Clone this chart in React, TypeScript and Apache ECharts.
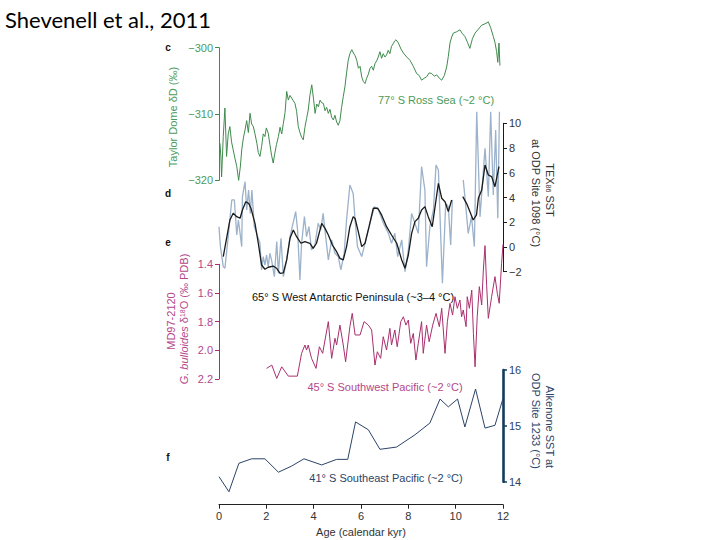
import React, { useEffect, useRef } from "react";
import * as echarts from "echarts";

// Panel c: Taylor Dome dD (per mil)
const ageC = [0.04, 0.08, 0.11, 0.18, 0.25, 0.32, 0.39, 0.46, 0.53, 0.6, 0.68, 0.75, 0.83, 0.9, 0.96, 1.03, 1.1, 1.17, 1.24, 1.31, 1.38, 1.45, 1.52, 1.6, 1.66, 1.73, 1.8, 1.87, 1.94, 2.0, 2.08, 2.15, 2.22, 2.29, 2.36, 2.43, 2.51, 2.58, 2.65, 2.72, 2.79, 2.86, 2.93, 3.0, 3.07, 3.14, 3.21, 3.28, 3.35, 3.42, 3.49, 3.56, 3.63, 3.7, 3.77, 3.84, 3.92, 3.99, 4.06, 4.13, 4.2, 4.27, 4.34, 4.41, 4.48, 4.55, 4.62, 4.69, 4.76, 4.83, 4.9, 4.97, 5.04, 5.11, 5.18, 5.25, 5.32, 5.39, 5.46, 5.53, 5.61, 5.68, 5.75, 5.82, 5.89, 5.96, 6.03, 6.1, 6.17, 6.24, 6.31, 6.38, 6.45, 6.52, 6.59, 6.66, 6.73, 6.8, 6.87, 6.94, 7.01, 7.08, 7.15, 7.22, 7.29, 7.36, 7.42, 7.48, 7.58, 7.69, 7.79, 7.93, 8.07, 8.21, 8.35, 8.46, 8.56, 8.67, 8.77, 8.88, 8.99, 9.1, 9.2, 9.31, 9.41, 9.52, 9.62, 9.69, 9.76, 9.83, 9.9, 10.04, 10.18, 10.29, 10.39, 10.5, 10.6, 10.71, 10.82, 10.96, 11.1, 11.24, 11.38, 11.48, 11.59, 11.66, 11.73, 11.78, 11.83, 11.87];
const deltaD = [-314.4, -316.5, -319.5, -313.4, -309.1, -316.4, -313.0, -311.9, -314.2, -315.4, -316.8, -317.9, -320.0, -318.0, -315.4, -313.6, -312.4, -311.0, -312.8, -309.9, -311.5, -311.9, -313.0, -314.4, -315.8, -316.4, -314.9, -313.0, -313.4, -312.1, -312.9, -314.6, -316.2, -317.4, -315.9, -314.6, -313.4, -312.0, -313.0, -311.4, -309.8, -306.6, -307.9, -307.2, -307.6, -308.0, -308.4, -309.6, -311.9, -312.8, -313.5, -313.9, -312.0, -310.7, -309.4, -307.2, -305.6, -307.6, -309.9, -308.5, -308.9, -307.9, -308.3, -308.4, -309.5, -309.0, -309.9, -309.3, -310.5, -310.9, -310.2, -311.2, -311.7, -311.0, -309.0, -307.4, -305.9, -303.8, -301.9, -300.9, -300.3, -300.8, -301.2, -301.9, -303.1, -302.8, -304.4, -305.1, -305.4, -304.6, -304.0, -303.1, -302.8, -303.4, -302.4, -302.0, -301.4, -300.6, -301.6, -300.9, -301.4, -301.1, -300.4, -300.9, -299.8, -299.4, -299.0, -298.8, -299.3, -300.2, -300.8, -301.4, -301.9, -302.8, -303.9, -304.2, -304.9, -304.6, -304.4, -303.8, -303.9, -304.3, -304.1, -304.6, -304.9, -304.2, -302.9, -301.3, -299.3, -298.4, -297.8, -297.6, -297.3, -297.9, -298.3, -299.2, -300.1, -298.6, -297.8, -297.2, -296.6, -296.4, -296.1, -297.0, -298.3, -299.2, -300.6, -302.2, -299.3, -302.7];

// Panel d: TEX86 SST at ODP Site 1098 (degC); null = data gap
const ageDRaw = [0.0, 0.06, 0.18, 0.25, 0.39, 0.54, 0.65, 0.75, 0.82, 0.96, 0.99, 1.1, 1.17, 1.25, 1.32, 1.39, 1.49, 1.59, 1.73, 1.8, 1.87, 1.94, 2.01, 2.08, 2.15, 2.22, 2.34, 2.44, 2.51, 2.62, 2.72, 2.86, 3.0, 3.24, 3.32, 3.42, 3.49, 3.61, 3.7, 3.8, 3.91, 4.05, 4.19, 4.3, 4.4, 4.5, 4.62, 4.76, 4.9, 5.04, 5.15, 5.29, 5.39, 5.53, 5.67, 5.75, 5.85, 6.03, 6.24, 6.45, 6.57, 6.74, 6.95, 7.16, 7.29, 7.43, 7.55, 7.72, 7.86, 8.0, 8.14, 8.28, 8.42, 8.56, 8.7, 8.77, 8.91, 9.06, 9.17, 9.27, 9.44, 9.58, 9.69, 9.79, 9.86, 10.1, 10.32, 10.39, 10.53, 10.67, 10.79, 10.89, 11.03, 11.24, 11.38, 11.48, 11.59, 11.69, 11.78, 11.85];
const texRaw = [1.64, 0.03, -1.59, -1.72, 0.84, 3.8, 3.8, 0.97, 2.18, 0.03, 4.07, 5.28, 2.99, 4.6, 2.72, 4.6, 1.64, 1.1, 0.3, -1.86, -0.78, -1.46, -0.65, -1.59, -0.51, -1.05, -2.4, 0.43, -2.13, 0.7, -2.4, -1.05, 0.84, 2.86, 1.37, -2.67, 0.3, 2.45, 0.84, 1.64, -0.24, 0.16, 1.91, 1.37, 2.72, 0.97, -1.05, 0.57, -0.51, -0.78, -1.86, -0.51, 2.18, 5.01, 4.33, 2.18, 0.03, -0.78, 0.84, 2.45, 3.26, 2.99, 1.91, 1.1, 0.3, 1.1, -0.78, 0.57, -2.0, -0.24, 2.72, 1.91, 1.1, 6.49, 4.6, -1.59, 1.64, 2.99, 6.63, 6.22, -2.93, 3.53, 3.26, 0.16, 3.8, null, 5.42, 4.07, 1.1, 2.45, 0.03, 10.94, 2.45, 7.98, 4.07, 10.94, 4.2, 9.46, 2.32, 10.94];
const ageDSmooth = [0.18, 0.32, 0.46, 0.6, 0.75, 0.89, 0.99, 1.13, 1.25, 1.35, 1.52, 1.66, 1.8, 1.94, 2.08, 2.29, 2.43, 2.58, 2.72, 2.86, 3.0, 3.14, 3.28, 3.46, 3.63, 3.84, 3.98, 4.12, 4.34, 4.48, 4.62, 4.79, 4.97, 5.11, 5.25, 5.39, 5.53, 5.67, 5.75, 5.89, 6.03, 6.17, 6.34, 6.52, 6.71, 6.87, 7.08, 7.29, 7.51, 7.72, 7.86, 8.0, 8.14, 8.28, 8.42, 8.56, 8.7, 8.84, 9.01, 9.13, 9.27, 9.41, 9.55, 9.69, 9.83, 10.1, 10.3, 10.46, 10.6, 10.74, 10.88, 10.96, 11.1, 11.24, 11.38, 11.52, 11.66, 11.83];
const texSmooth = [-0.78, 0.7, 2.18, 2.72, 2.45, 2.32, 2.99, 3.66, 3.53, 3.13, 1.91, 0.3, -1.46, -1.8, -1.64, -1.54, -1.72, -2.13, -2.1, -1.05, 0.7, 1.37, 0.83, 0.3, 0.43, 0.3, -0.11, 0.3, 1.91, 1.5, 0.97, 0.16, -0.38, -0.92, -1.05, 0.03, 1.64, 2.45, 2.3, 1.2, 0.03, 0.3, 1.64, 3.13, 3.13, 2.59, 1.64, 0.97, 0.3, -1.05, -1.72, -0.65, 1.1, 2.05, 2.32, 2.99, 3.26, 2.45, 1.64, 3.26, 5.15, 3.94, 3.66, 2.86, 3.8, null, 4.07, 3.53, 2.86, 2.18, 2.59, 3.94, 4.6, 6.63, 5.82, 5.69, 4.87, 6.49];

// Panel e: MD97-2120 G. bulloides d18O (per mil PDB)
const ageE = [2.01, 2.23, 2.44, 2.65, 2.93, 3.31, 3.49, 3.63, 3.7, 3.77, 3.91, 4.1, 4.24, 4.38, 4.48, 4.62, 4.76, 4.9, 4.97, 5.11, 5.25, 5.35, 5.53, 5.63, 5.75, 5.96, 6.13, 6.31, 6.45, 6.59, 6.69, 6.83, 6.94, 7.08, 7.22, 7.29, 7.43, 7.53, 7.68, 7.79, 7.9, 8.0, 8.1, 8.21, 8.32, 8.42, 8.56, 8.63, 8.77, 8.88, 9.03, 9.17, 9.31, 9.41, 9.55, 9.65, 9.76, 9.87, 9.97, 10.07, 10.18, 10.25, 10.32, 10.44, 10.49, 10.58, 10.68, 10.75, 10.82, 10.91, 11.0, 11.1, 11.17, 11.24, 11.31, 11.38, 11.52, 11.66, 11.76, 11.84, 11.94, 12.0];
const d18O = [2.126, 2.103, 2.196, 2.115, 2.18, 2.18, 2.021, 1.963, 1.998, 1.963, 2.056, 2.126, 1.975, 2.021, 1.928, 1.8, 2.056, 1.916, 1.963, 1.824, 1.963, 2.08, 1.835, 1.742, 1.893, 1.893, 1.8, 1.824, 1.858, 2.103, 2.01, 2.056, 1.905, 1.998, 1.847, 1.963, 1.858, 1.975, 1.8, 1.766, 1.824, 1.789, 1.951, 1.882, 2.068, 1.951, 1.8, 2.021, 1.824, 1.94, 1.824, 1.742, 1.835, 1.707, 2.021, 1.8, 1.672, 1.754, 1.626, 1.707, 1.649, 1.766, 1.719, 1.835, 1.626, 1.707, 1.58, 1.882, 2.115, 1.766, 1.556, 1.684, 1.44, 1.27, 1.55, 1.777, 1.626, 1.486, 1.603, 1.672, 1.393, 1.26];

// Panel f: Alkenone SST at ODP Site 1233 (degC)
const ageF = [0.0, 0.42, 0.84, 1.38, 1.94, 2.51, 3.07, 3.59, 4.34, 4.97, 5.44, 5.77, 6.31, 6.8, 7.5, 8.28, 8.91, 9.34, 9.69, 10.08, 10.39, 10.84, 11.24, 11.66, 12.0];
const alkSST = [14.09, 13.82, 14.33, 14.41, 14.41, 14.17, 14.28, 14.41, 14.3, 14.4, 14.4, 15.07, 14.93, 14.58, 14.62, 14.84, 15.05, 15.48, 15.34, 15.48, 14.98, 15.66, 14.96, 15.01, 15.49];

// Axis ticks
const ageTicks = [0, 2, 4, 6, 8, 10, 12];

const pairs = (xs: number[], ys: (number | null)[]) =>
  xs.map((x, i) => [x, ys[i] === null ? "-" : ys[i]]);

const GREEN = "#3f8b4d";
const GREEN_T = "#4b9b5c";
const BLUE = "#9bb2ca";
const BLACK = "#1a1a1a";
const MAG = "#a8306e";
const MAG_T = "#b3478a";
const NAVY = "#2c4467";
const NAVY_AX = "#123c5c";
const FONT = "'Liberation Sans', Arial, sans-serif";

const minus = (v: number, d = 0) => (d ? v.toFixed(d) : String(Math.round(v))).replace("-", "\u2212");

export default function App() {
  const ref = useRef<HTMLDivElement>(null);
  useEffect(() => {
    if (!ref.current) return;
    const chart = echarts.init(ref.current, null, { renderer: "svg" });
    const L = 219;
    const W = 284;
    const grids = [
      { left: L, width: W, top: 47.7, height: 132.6 },
      { left: L, width: W, top: 123.3, height: 148.4 },
      { left: L, width: W, top: 264.3, height: 114.7 },
      { left: L, width: W, top: 370, height: 111.7 },
    ];
    const xAxes = grids.map((_, i) => ({
      type: "value",
      gridIndex: i,
      min: ageTicks[0],
      max: ageTicks[ageTicks.length - 1],
      interval: 2,
      show: i === 3,
      position: "bottom",
      offset: 23,
      axisLine: { show: true, onZero: false, lineStyle: { color: "#222", width: 1.2 } },
      axisTick: { show: true, length: 4, lineStyle: { color: "#222" } },
      axisLabel: { color: "#333", fontSize: 11, fontFamily: FONT, margin: 6 },
      splitLine: { show: false },
    }));
    const yBase = (color: string, lineColor: string, lw = 1) => ({
      type: "value",
      axisLine: { show: true, onZero: false, lineStyle: { color: lineColor, width: lw } },
      axisTick: { show: true, length: 4, lineStyle: { color: lineColor } },
      axisLabel: { color, fontSize: 11, fontFamily: FONT, margin: 6 },
      splitLine: { show: false },
    });
    const yAxes = [
      {
        ...yBase(GREEN_T, GREEN),
        gridIndex: 0, position: "left", min: -320, max: -300, interval: 10,
        axisLabel: { ...yBase(GREEN_T, GREEN).axisLabel, formatter: (v: number) => minus(v) },
      },
      {
        ...yBase("#333", BLACK),
        gridIndex: 1, position: "right", min: -2, max: 10, interval: 2,
        axisLabel: { ...yBase("#333", BLACK).axisLabel, formatter: (v: number) => minus(v) },
      },
      {
        ...yBase(MAG_T, MAG),
        gridIndex: 2, position: "left", min: 1.4, max: 2.2, interval: 0.2, inverse: true,
        axisLabel: { ...yBase(MAG_T, MAG).axisLabel, formatter: (v: number) => v.toFixed(1) },
      },
      {
        ...yBase(NAVY, NAVY_AX, 2.6),
        gridIndex: 3, position: "right", min: 14, max: 16, interval: 1,
        axisTick: { show: true, length: 4, lineStyle: { color: NAVY_AX, width: 1.5 } },
      },
    ];
    const lineS = (xi: number, data: any[], color: string, width: number, z = 2) => ({
      type: "line",
      xAxisIndex: xi,
      yAxisIndex: xi,
      data,
      showSymbol: false,
      symbol: "none",
      clip: false,
      connectNulls: false,
      lineStyle: { color, width },
      z,
    });
    const txt = (x: number, y: number, text: string, color: string, extra: any = {}) => ({
      type: "text",
      x,
      y,
      rotation: extra.rotation || 0,
      z: 10,
      style: {
        text,
        fill: color,
        font: extra.font || `11px ${FONT}`,
        align: extra.align || "center",
        verticalAlign: "middle",
        rich: extra.rich,
      },
    });
    const R = Math.PI / 2;
    const option = {
      animation: false,
      grid: grids,
      xAxis: xAxes,
      yAxis: yAxes,
      series: [
        lineS(0, pairs(ageC, deltaD), GREEN, 1),
        lineS(1, pairs(ageDRaw, texRaw), BLUE, 1.3, 2),
        lineS(1, pairs(ageDSmooth, texSmooth), BLACK, 1.3, 3),
        lineS(2, pairs(ageE, d18O), MAG, 1),
        lineS(3, pairs(ageF, alkSST), NAVY, 1),
      ],
      graphic: [
        txt(5, 19, "Shevenell et al., 2011", "#000", { align: "left", font: `22px Lato, 'Open Sans', sans-serif` }),
        txt(168, 47, "c", "#111", { font: `bold 10px ${FONT}` }),
        txt(168, 193, "d", "#111", { font: `bold 10px ${FONT}` }),
        txt(168, 242, "e", "#111", { font: `bold 10px ${FONT}` }),
        txt(168, 457, "f", "#111", { font: `bold 10px ${FONT}` }),
        txt(173, 117, "Taylor Dome \u03b4D (\u2030)", GREEN_T, { rotation: R }),
        txt(171, 321, "MD97-2120", MAG_T, { rotation: R }),
        txt(184, 319, "{i|G. bulloides} \u03b4{s|18}O (\u2030 PDB)", MAG_T, {
          rotation: R,
          rich: { i: { fontStyle: "italic", fontSize: 11, fontFamily: FONT, fill: MAG_T }, s: { fontSize: 7, fontFamily: FONT, fill: MAG_T, verticalAlign: "top" } },
        }),
        txt(550, 190, "TEX{s|86} SST", "#333", {
          rotation: -R,
          rich: { s: { fontSize: 7, fontFamily: FONT, fill: "#333", verticalAlign: "bottom" } },
        }),
        txt(536, 193, "at ODP Site 1098 (\u00b0C)", "#333", { rotation: -R }),
        txt(550, 427, "Alkenone SST at", NAVY, { rotation: -R }),
        txt(536, 421, "ODP Site 1233 (\u00b0C)", NAVY, { rotation: -R }),
        txt(436, 100, "77\u00b0 S Ross Sea (~2 \u00b0C)", GREEN_T),
        txt(353, 297, "65\u00b0 S West Antarctic Peninsula (~3\u20134 \u00b0C)", "#111"),
        txt(385, 387, "45\u00b0 S Southwest Pacific (~2 \u00b0C)", MAG_T),
        txt(386, 478, "41\u00b0 S Southeast Pacific (~2 \u00b0C)", NAVY),
        txt(361, 532, "Age (calendar kyr)", "#333"),
      ],
    };
    chart.setOption(option as any);
    return () => chart.dispose();
  }, []);
  return (
    <div
      ref={ref}
      style={{ position: "absolute", left: 0, top: 0, width: 720, height: 540, background: "#fff" }}
    />
  );
}
